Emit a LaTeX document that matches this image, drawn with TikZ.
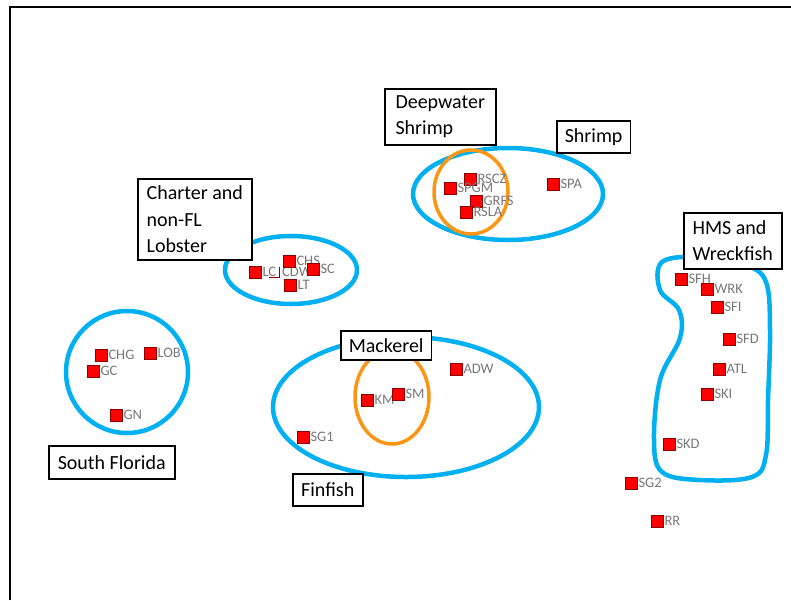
\documentclass[tikz,border=0pt]{standalone}
\usepackage{fontspec}
\setmainfont{Carlito}
\usetikzlibrary{calc}
\definecolor{fishblue}{RGB}{0,176,240}
\definecolor{fishorange}{RGB}{250,150,20}
\definecolor{sitegray}{RGB}{120,120,120}
\tikzset{
  site/.style={draw=red!55!black, line width=0.6pt, fill=red, minimum size=12pt, inner sep=0pt},
  sitetext/.style={text=sitegray, font=\fontsize{14.5}{16}\selectfont, inner sep=1pt},
  group/.style={draw=fishblue, line width=4.5pt},
  subgroup/.style={draw=fishorange, line width=3.5pt},
  tag/.style={draw, line width=1.5pt, fill=white, anchor=north west, align=left, inner xsep=8pt, inner ysep=3pt, font=\fontsize{20}{26.5}\selectfont}
}
\def\site(#1,#2)#3{\node[site, label={[sitetext, label distance=0pt]right:#3}] (#3) at (#1,#2) {};}

\begin{document}
\begin{tikzpicture}[x=1pt, y=-1pt]
			%%%%% START %%%%%
			\useasboundingbox (0,0) rectangle (791,600);
			
			\draw[line width=2.5pt] (10,600) -- (10,7) -- (791,7);
			
			% groups
			\draw[group] (127,372) ellipse [x radius=61pt, y radius=61pt];
			\draw[group] (291,270) ellipse [x radius=66pt, y radius=34pt];
			\draw[group] (508,194) ellipse [x radius=95pt, y radius=46pt];
			\draw[group] (406,407) ellipse [x radius=133pt, y radius=70pt];
			\draw[group] plot[smooth cycle, tension=0.6] coordinates {(662,262) (700,257) (745,265) (766,282) (770,330) (768,400) (766,455) (752,477) (700,480) (662,472) (654,440) (660,380) (680,338) (679,310) (660,290)};
			
			\draw[subgroup] (471,192) ellipse [x radius=37pt, y radius=42pt];
			\draw[subgroup] (392,397) ellipse [x radius=37pt, y radius=47pt];
			
			% sites
			\site(101,355){CHG}
			\site(150,353){LOB}
			\site(93,371){GC}
			\site(116,415){GN}
			
			\site(255,272){LC}
			\draw[red!55!black, line width=0.8pt] (279,267) -- (279,277) -- (269,277);
			\node[sitetext, anchor=west] (CDW) at (281,272) {CDW};
			\site(289,261){CHS}
			\site(313,269){SC}
			\site(290,285){LT}
			
			\site(470,179){RSCZ}
			\site(450,188){SPGM}
			\site(476,201){GRFS}
			\site(466,212){RSLA}
			\site(553,184){SPA}
			
			\site(367,400){KM}
			\site(398,394){SM}
			\site(456,369){ADW}
			\site(303,437){SG1}
			
			\site(681,279){SFH}
			\site(707,289){WRK}
			\site(717,307){SFI}
			\site(729,339){SFD}
			\site(719,369){ATL}
			\site(707,394){SKI}
			\site(669,444){SKD}
			\site(631,483){SG2}
			\site(657,521){RR}
			
			% tags
			\node[tag, minimum width=111pt, minimum height=56pt] (deeptag) at (384,88) {Deepwater\\Shrimp};
			\node[tag, minimum width=73pt, minimum height=32pt] (shrimptag) at (556,120) {Shrimp};
			\node[tag, minimum width=114pt, minimum height=81pt] (chartertag) at (137,178) {Charter and\\non-FL\\Lobster};
			\node[tag, minimum width=126pt, minimum height=33pt] (southtag) at (48,445) {South Florida};
			\node[tag, minimum width=70pt, minimum height=32pt] (finfishtag) at (292,473) {Finfish};
			\node[tag, minimum width=90pt, minimum height=29pt] (mackereltag) at (340,330) {Mackerel};
			\node[tag, minimum width=98pt, minimum height=56pt] (hmstag) at (683,212) {HMS and\\Wreckfish};
			
			%%%%% END %%%%%
\end{tikzpicture}
\end{document}
